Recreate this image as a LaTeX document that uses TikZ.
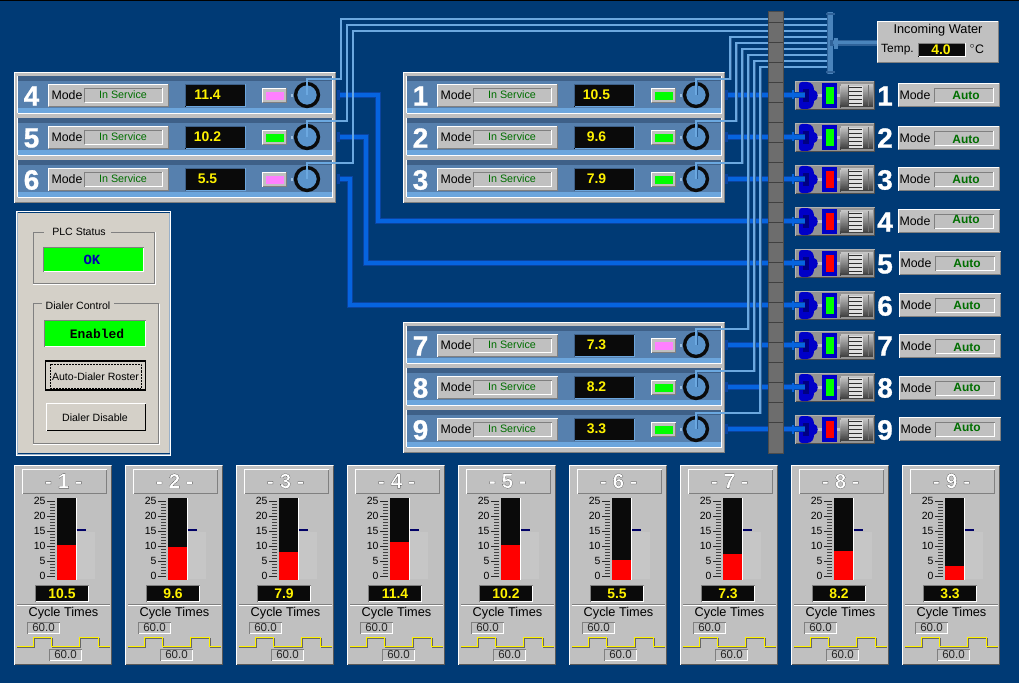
\documentclass[tikz,border=0pt]{standalone}
\usepackage{fontspec}
\setmainfont{Liberation Sans}
\newfontfamily\digitfont[FakeBold=0.5]{Liberation Sans Bold}
\newfontfamily\numfont[FakeBold=1]{Liberation Sans Bold}
\newfontfamily\monofont{Liberation Mono}
\definecolor{bg}{HTML}{003A75}
\definecolor{panelgray}{HTML}{C0C0C0}
\definecolor{midblue}{HTML}{5680AE}
\definecolor{darkstripe}{HTML}{3E6088}
\definecolor{lightstripe}{HTML}{6CA6DD}
\definecolor{dialfill}{HTML}{5A94CC}
\definecolor{pipelight}{HTML}{6BA8E0}
\definecolor{pipedark}{HTML}{2F6299}
\definecolor{headermid}{HTML}{4A84BC}
\definecolor{thickmid}{HTML}{0664E0}
\definecolor{thickdark}{HTML}{0A44A0}
\definecolor{ltext}{HTML}{006E00}
\definecolor{nearblack}{HTML}{0A0A0A}
\definecolor{pinkind}{HTML}{FF80FF}
\definecolor{greenind}{HTML}{00FF00}
\definecolor{redind}{HTML}{FF0000}
\definecolor{dlg}{HTML}{D4D0C8}
\definecolor{pumpblue}{HTML}{0000C8}
\definecolor{edgegray}{HTML}{808080}
\definecolor{ghostbox}{HTML}{C6C6C6}
\tikzset{
  x=1bp,y=-1bp,
  txt/.style={inner sep=0pt,outer sep=0pt,text=black,font=\fontsize{12.4}{13}\selectfont},
  modetxt/.style={txt,text=ltext,font=\fontsize{10.8}{12}\selectfont},
  autotxt/.style={txt,text=ltext,font=\fontsize{12}{13}\selectfont\bfseries},
  valtxt/.style={txt,text=yellow,font=\fontsize{14}{15}\selectfont\bfseries},
  numtxt/.style={txt,text=white,font=\numfont\fontsize{28}{30}\selectfont},
  smalltxt/.style={txt,font=\fontsize{10.5}{11}\selectfont},
  boxtxt/.style={txt,font=\fontsize{11.6}{12}\selectfont,text=black!85},
  dlgtxt/.style={txt,font=\fontsize{10.6}{12}\selectfont},
  dialnode/.style={circle,draw=nearblack,line width=3.4pt,fill=dialfill,minimum size=23pt,inner sep=0pt},
  lightpipeback/.style={draw=pipedark,line width=3pt,line join=miter},
  lightpipe/.style={draw=pipelight,line width=1.8pt,line join=miter},
  thickback/.style={draw=thickdark,line width=7pt,line join=miter},
  thickpipe/.style={draw=thickmid,line width=4.5pt,line join=miter},
}
% \bev{x1}{y1}{x2}{y2}{fill}{top-left}{bottom-right}
\newcommand{\bev}[7]{%
  \fill[#5] (#1,#2) rectangle (#3,#4);
  \draw[#6,line width=1pt] (#1+0.5,#4-0.5) -- (#1+0.5,#2+0.5) -- (#3-0.5,#2+0.5);
  \draw[#7,line width=1pt] (#3-0.5,#2+0.5) -- (#3-0.5,#4-0.5) -- (#1+0.5,#4-0.5);
}
% \chiller{number}{x0}{y0}{value}{indicator colour}
\newcommand{\chiller}[5]{%
  \begin{scope}[shift={(#2,#3)}]
    \node[numtxt] (num#1) at (17.5,1) {#1};
    \bev{34}{-11}{155}{12}{panelgray}{white}{edgegray}
    \node[txt] (modelbl#1) at (53,0) {Mode};
    \bev{70}{-7}{149}{8}{panelgray}{edgegray}{white}
    \node[modetxt] (modeval#1) at (109,0) {In Service};
    \bev{171}{-11}{232}{12}{nearblack}{darkstripe}{lightstripe}
    \node[valtxt] (val#1) at (193.5,-0.5) {#4};
    \bev{248}{-7}{273}{8}{panelgray}{white}{edgegray}
    \fill[#5] (252,-3) rectangle (270,5);
    \fill[dialfill!60!white] (277,-1) rectangle (279,2);
    \node[dialnode] (dial#1) at (293,0) {};
  \end{scope}
}
% \chillerframe{x0}{y0}
\newcommand{\chillerframe}[2]{%
  \begin{scope}[shift={(#1,#2)}]
    \fill[panelgray] (0,0) rectangle (322,131);
    \draw[white,line width=1.5pt] (0.7,130.5) -- (0.7,0.7) -- (321,0.7);
    \draw[edgegray,line width=1pt] (321.5,0.7) -- (321.5,130.5) -- (0.7,130.5);
    \foreach \r in {0,42,84}{
      \fill[midblue] (4,4+\r) rectangle (318,37+\r);
      \fill[darkstripe] (4,4+\r) rectangle (318,9+\r);
      \fill[lightstripe] (4,36+\r) rectangle (318,41+\r);
      \draw[white,line width=1pt] (3.5,41.5+\r) -- (318.5,41.5+\r) -- (318.5,4+\r);
      \draw[white,line width=1pt] (3.5,4+\r) -- (3.5,41+\r);
    }
  \end{scope}
}
% \pumpset{number}{y}{status colour}{mode x}{mode y}{auto y offset}
\newcommand{\pumpset}[6]{%
  \begin{scope}[shift={(795,#2)}]
    \bev{0}{-14}{80}{15}{edgegray!85!white}{edgegray!60!white}{edgegray!60!black}
    \fill[edgegray!50!white] (20,-1) rectangle (28,2);
    \fill[edgegray!50!white] (41,-1) rectangle (46,2);
    \path[fill=pumpblue] (4,-10) .. controls (4,-12) and (5,-13) .. (7,-13) -- (12,-13) .. controls (17,-13) and (19,-9) .. (19,-5) .. controls (24,-4) and (24,5) .. (19,6) .. controls (19,10) and (17,14) .. (12,14) -- (7,14) .. controls (5,14) and (4,13) .. (4,11) -- cycle;
    \fill[pumpblue!65!black] (8,-6) rectangle (14,7);
    \fill[pumpblue] (27,-12) rectangle (42,13);
    \node[fill=#3,minimum width=8pt,minimum height=17pt,inner sep=0pt] (stat#1) at (35,0.5) {};
    \foreach \i in {0,...,22}{
      \pgfmathtruncatemacro\pct{22+2.4*\i}
      \fill[black!\pct] (45+1,\i-11) rectangle (78,\i-10);
      \fill[black!\pct] (45,\i-9) rectangle (46,{min(\i-8,10)});
    }
    \fill[black!12] (53,-9) rectangle (68,11);
    \foreach \f in {-7.5,-3.5,0.5,4.5,8.5}{\draw[nearblack!85,line width=1.3pt] (54,\f) -- (67,\f);}
    \draw[black!70,line width=1pt] (53.5,-10) -- (53.5,11);
    \draw[black!55,line width=1pt] (73.5,-10) -- (73.5,11);
    \node[inner sep=0pt,minimum size=0pt] (motor#1) at (61.5,0.5) {};
  \end{scope}
  \node[numtxt] (pnum#1) at (885,#2+1) {#1};
  \begin{scope}[shift={(#4,#5)}]
    \bev{0}{-12}{102}{12}{panelgray}{white}{edgegray}
    \node[txt] (pmode#1) at (17,0) {Mode};
    \bev{36}{-7}{96}{8}{panelgray}{edgegray}{white}
    \node[autotxt] (pauto#1) at (68,0.5+#6) {Auto};
  \end{scope}
}
% \gauge{number}{x0}{value}
\newcommand{\gauge}[3]{%
  \begin{scope}[shift={(#2,465)}]
    \fill[panelgray] (0,0) rectangle (98,200);
    \draw[white,line width=1.2pt] (0.6,199.5) -- (0.6,0.6) -- (97,0.6);
    \draw[black!65,line width=1.5pt] (97.3,0.6) -- (97.3,199.3) -- (0.6,199.3);
    \draw[white,line width=1pt] (8.5,28.5) -- (8.5,4.5) -- (92.5,4.5);
    \draw[edgegray,line width=1pt] (92.5,4.5) -- (92.5,28.5) -- (8.5,28.5);
    \node[txt,font=\digitfont\fontsize{21}{22}\selectfont] (gt#1) at (49.5,16) {\special{pdf:bc [1 1 1] [0.1 0.1 0.1]}- #1 -\special{pdf:ec}};
    \fill[nearblack] (43,33) rectangle (62,115);
    \fill[redind] (43,{111-3*#3}) rectangle (62,115);
    \draw[white,line width=0.7pt] (62.3,33) -- (62.3,115);
    \fill[ghostbox] (62.7,67) rectangle (81,114);
    \draw[blue!40!black,line width=2.8pt] (62.7,65) -- (72,65);
    \foreach \m in {0,1,...,25}{\draw[black!75,line width=0.8pt] (36,{111.5-3*\m}) -- (40.5,{111.5-3*\m});}
    \foreach \m/\mm in {0/a,5/b,10/c,15/d,20/e,25/f}{
      \draw[black!85,line width=1pt] (33,{111.5-3*\m}) -- (40.5,{111.5-3*\m});
      \node[smalltxt,anchor=east] (gl#1\mm) at (31.5,{111-3*\m}) {\m};
    }
    \bev{21}{120}{75}{137}{nearblack}{edgegray}{white}
    \node[valtxt] (gv#1) at (48,128.5) {#3};
    \draw[edgegray,line width=0.6pt] (3,139.7) -- (96,139.7);
    \draw[white,line width=0.6pt] (3,140.4) -- (96,140.4);
    \node[txt,font=\fontsize{12.8}{13}\selectfont] (gc#1) at (49.5,148) {Cycle Times};
    \bev{13}{157}{46}{169}{panelgray}{edgegray}{white}
    \node[boxtxt] (gs#1) at (29.5,163) {60.0};
    \bev{35}{184}{68}{196}{panelgray}{edgegray}{white}
    \node[boxtxt] (gr#1) at (51.5,190) {60.0};
    \draw[black!60,line width=1pt] (3,182.5) -- (20.5,182.5) -- (20.5,173.5) -- (38.5,173.5) -- (38.5,182.5) -- (66.5,182.5) -- (66.5,173.5) -- (85.5,173.5) -- (85.5,182.5) -- (96,182.5);
    \draw[yellow,line width=1.2pt] (3,181.5) -- (19.5,181.5) -- (19.5,172.5) -- (37.5,172.5) -- (37.5,181.5) -- (65.5,181.5) -- (65.5,172.5) -- (84.5,172.5) -- (84.5,181.5) -- (96,181.5);
  \end{scope}
}
\begin{document}
\begin{tikzpicture}
\useasboundingbox (0,0) rectangle (1019,683);
\fill[bg] (0,0) rectangle (1019,683);
\fill[black] (0,0) rectangle (1019,1);

% ---- named ends for the thick cooling pipes
\foreach \n/\py in {1/95,2/137,3/179,4/221,5/263,6/305,7/345,8/387,9/429}{
  \coordinate (pumpin\n) at (805,\py);
}
\coordinate (src1) at (725,95);
\coordinate (src2) at (725,137);
\coordinate (src3) at (725,179);
\coordinate (src7) at (725,345);
\coordinate (src8) at (725,387);
\coordinate (src9) at (725,429);
\coordinate (src4) at (337,95);
\coordinate (src5) at (337,137);
\coordinate (src6) at (337,179);
\coordinate (bend4) at (378,95);
\coordinate (bend5) at (366,137);
\coordinate (bend6) at (350,179);

\foreach \s in {thickback,thickpipe}{
  \foreach \n in {1,2,3,7,8,9}{\path[\s] (src\n) -- (pumpin\n);}
  \path[\s] (src4) -- (bend4) |- (pumpin4);
  \path[\s] (src5) -- (bend5) |- (pumpin5);
  \path[\s] (src6) -- (bend6) |- (pumpin6);
}
\foreach \n in {1,2,3,4,5,6,7,8,9}{\fill[thickdark] (src\n) ++(0,-5) rectangle ++(3,10);}

% ---- chiller panels
\chillerframe{14}{72}
\chillerframe{403}{72}
\chillerframe{403}{322}
\chiller{4}{14}{95}{11.4}{pinkind}
\chiller{5}{14}{137}{10.2}{greenind}
\chiller{6}{14}{179}{5.5}{pinkind}
\chiller{1}{403}{95}{10.5}{greenind}
\chiller{2}{403}{137}{9.6}{greenind}
\chiller{3}{403}{179}{7.9}{greenind}
\chiller{7}{403}{345}{7.3}{pinkind}
\chiller{8}{403}{387}{8.2}{greenind}
\chiller{9}{403}{429}{3.3}{greenind}

% ---- header and its water feed
\node[draw=none,fill=pipedark,minimum width=6pt,minimum height=62pt,inner sep=0pt] (hdr) at (830,43) {};

% ---- light return lines, dial to header
\foreach \n/\px/\py in {4/341/19,5/347/25,6/353/31,1/730/37,2/736/43,3/742/49,7/748/55,8/754/61,9/760/67}{
  \coordinate (hin\n) at (827,\py);
  \coordinate (turn\n) at (\px,\py);
  \path[lightpipeback] (dial\n.center) -- ++(0,-16) -| (turn\n) -- (hin\n);
  \path[lightpipe] (dial\n.center) -- ++(0,-16) -| (turn\n) -- (hin\n);
}

% ---- gray column
\fill[edgegray!85!black] (768,11) rectangle (783,453);
\draw[black!70,line width=0.6pt] (768,11) rectangle (783,453);
\foreach \yy in {1,...,21}{\draw[black!75,line width=0.8pt] (768,{2.5+20*\yy}) -- (783,{2.5+20*\yy});}

% ---- header detail
\fill[headermid] (827.5,12) rectangle (832.5,74);
\fill[pipedark] (826,13) rectangle (835,15);
\fill[pipedark] (826,71) rectangle (835,73);

% ---- pumps
\pumpset{1}{95}{greenind}{898}{95}{0}
\pumpset{2}{137}{greenind}{898}{138}{0.5}
\pumpset{3}{179}{redind}{898}{179}{0}
\pumpset{4}{221}{redind}{898}{221}{-2}
\pumpset{5}{263}{redind}{899}{263}{0}
\pumpset{6}{305}{greenind}{899}{305}{0}
\pumpset{7}{345}{greenind}{899}{346}{1}
\pumpset{8}{387}{greenind}{899}{388}{-1}
\pumpset{9}{429}{redind}{899}{429}{-2}
\foreach \n in {1,2,3,4,5,6,7,8,9}{
  \path[thickback] (pumpin\n) ++(-21,0) -- (pumpin\n);
  \path[thickpipe] (pumpin\n) ++(-21,0) -- (pumpin\n);
  \fill[thickmid] (pumpin\n) ++(-13,-4.5) rectangle ++(2,9);
}

% ---- incoming water box
\bev{877}{21}{999}{63}{panelgray}{white}{edgegray}
\node[txt,font=\fontsize{12.8}{13}\selectfont] (inw) at (938,30) {Incoming Water};
\node[txt,font=\fontsize{12}{13}\selectfont] (temp) at (897.5,50) {Temp.};
\bev{918}{43}{966}{57}{nearblack}{edgegray}{white}
\node[valtxt] (tempval) at (941,50) {4.0};
\node[txt,font=\fontsize{12.4}{13}\selectfont] (degc) at (977,49) {$^{\circ}$C};
\draw[pipedark,line width=7pt] (877,43) -- (hdr.center);
\draw[headermid,line width=4pt] (877,42.5) -- (833,42.5);
\fill[headermid] (834,38) rectangle (838,49);

% ---- control panel
\fill[bg!40!white] (16,211) rectangle (171,455);
\fill[dlg] (18,213) rectangle (169,453);
\draw[white,line width=1pt] (16.5,455) -- (16.5,211.5) -- (170.5,211.5) -- (170.5,455) -- cycle;
\draw[bg,line width=0.8pt] (17.5,453.5) -- (169.5,453.5);
\draw[bg,line width=0.8pt] (17.5,212.5) -- (169.5,212.5);
% group frames
\draw[edgegray,line width=1pt] (33.5,232.5) rectangle (154.5,283.5);
\draw[white,line width=0.8pt] (33,284.5) -- (155.5,284.5) -- (155.5,232);
\fill[dlg] (44,228) rectangle (111,236);
\node[dlgtxt] (plc) at (79,232) {PLC Status};
\bev{43}{247}{144}{272}{greenind}{edgegray}{white}
\node[txt,text=blue!70!black,font=\monofont\bfseries\fontsize{14}{15}\selectfont] (ok) at (92,260) {OK};
\draw[edgegray,line width=1pt] (33.5,303.5) rectangle (158.5,443.5);
\draw[white,line width=0.8pt] (33,444.5) -- (159.5,444.5) -- (159.5,303.5);
\fill[dlg] (42,299) rectangle (114,309);
\node[dlgtxt] (dc) at (78,306) {Dialer Control};
\bev{44}{320}{146}{347}{greenind}{edgegray}{white}
\node[txt,font=\monofont\bfseries\fontsize{13}{14}\selectfont] (en) at (97,334) {Enabled};
\node[draw=black,line width=1.3pt,fill=dlg,minimum width=100pt,minimum height=29pt,inner sep=0pt] (roster) at (95.5,375.5) {};
\draw[black,line width=0.5pt,densely dotted] (50,364) rectangle (141,388);
\node[dlgtxt] (rostertxt) at (95.5,376.5) {Auto-Dialer Roster};
\bev{46}{403}{146}{431}{dlg}{white}{black}
\node[dlgtxt] (dis) at (95,418) {Dialer Disable};

% ---- gauges
\gauge{1}{14}{10.5}
\gauge{2}{125}{9.6}
\gauge{3}{236}{7.9}
\gauge{4}{347}{11.4}
\gauge{5}{458}{10.2}
\gauge{6}{569}{5.5}
\gauge{7}{680}{7.3}
\gauge{8}{791}{8.2}
\gauge{9}{902}{3.3}
\end{tikzpicture}
\end{document}
